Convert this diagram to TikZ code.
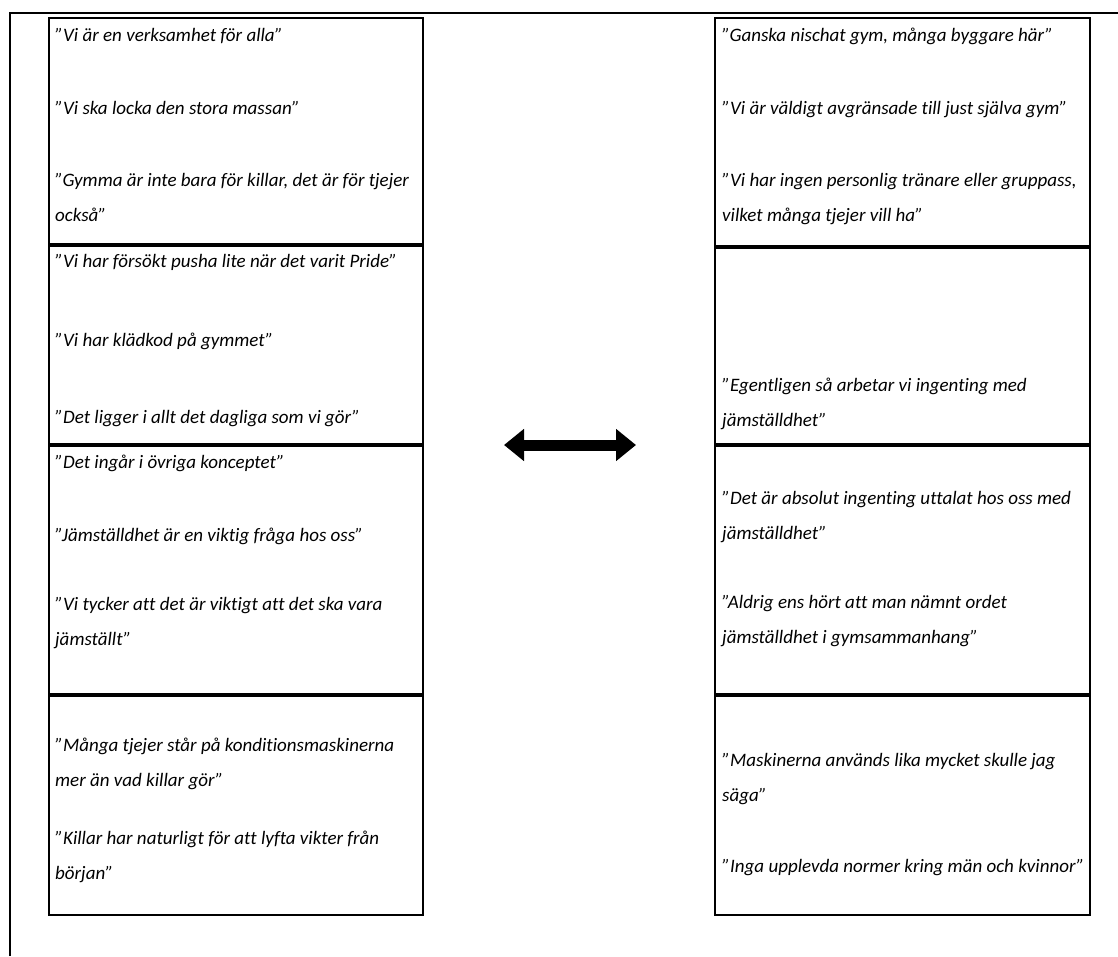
\documentclass[tikz,border=0pt]{standalone}
\usepackage{fontspec}
\setmainfont{Carlito}[Ligatures=CommonOff]
\usetikzlibrary{arrows.meta}

\newcommand{\citat}{\fontsize{19}{35}\selectfont\itshape}

\begin{document}
\begin{tikzpicture}[x=1pt, y=-1pt,
  rad/.style={anchor=base west, inner sep=0pt, font=\citat},
  ram/.style={line width=2.5pt},
  ruta/.style={line width=2.4pt},
  delning/.style={line width=3.2pt},
  dubbelpil/.style={line width=11pt, {Triangle[length=20pt,width=31pt]}-{Triangle[length=20pt,width=31pt]}}]

\useasboundingbox (0,0) rectangle (1118,956);

% Yttre ram
\draw[ram] (10,956) -- (10,13) -- (1118,13);

% Vänster kolumn
\draw[ruta] (49,18) rectangle (423,915);
\draw[delning] (49,245) -- (423,245);
\draw[delning] (49,445) -- (423,445);
\draw[delning] (49,695) -- (423,695);

\node[rad] (v1a) at (55,41) {”Vi är en verksamhet för alla”};
\node[rad] (v1b) at (55,114) {”Vi ska locka den stora massan”};
\node[rad] (v1c) at (55,186) {”Gymma är inte bara för killar, det är för tjejer};
\node[rad] (v1d) at (55,221) {också”};

\node[rad] (v2a) at (55,267) {”Vi har försökt pusha lite när det varit Pride”};
\node[rad] (v2b) at (55,346) {”Vi har klädkod på gymmet”};
\node[rad] (v2c) at (55,423) {”Det ligger i allt det dagliga som vi gör”};

\node[rad] (v3a) at (55,468) {”Det ingår i övriga konceptet”};
\node[rad] (v3b) at (55,541) {”Jämställdhet är en viktig fråga hos oss”};
\node[rad] (v3c) at (55,610) {”Vi tycker att det är viktigt att det ska vara};
\node[rad] (v3d) at (55,645) {jämställt”};

\node[rad] (v4a) at (55,751) {”Många tjejer står på konditionsmaskinerna};
\node[rad] (v4b) at (55,786) {mer än vad killar gör”};
\node[rad] (v4c) at (55,844) {”Killar har naturligt för att lyfta vikter från};
\node[rad] (v4d) at (55,879) {början”};

% Pil
\coordinate (pilV) at (504,445);
\coordinate (pilH) at (636,445);
\draw[dubbelpil] (pilV) -- (pilH);

% Höger kolumn
\draw[ruta] (715,18) rectangle (1090,915);
\draw[delning] (715,247) -- (1090,247);
\draw[delning] (715,445) -- (1090,445);
\draw[delning] (715,695) -- (1090,695);

\node[rad] (h1a) at (722,41) {”Ganska nischat gym, många byggare här”};
\node[rad] (h1b) at (722,114) {”Vi är väldigt avgränsade till just själva gym”};
\node[rad] (h1c) at (722,186) {”Vi har ingen personlig tränare eller gruppass,};
\node[rad] (h1d) at (722,221) {vilket många tjejer vill ha”};

\node[rad] (h2a) at (722,391) {”Egentligen så arbetar vi ingenting med};
\node[rad] (h2b) at (722,426) {jämställdhet”};

\node[rad] (h3a) at (722,504) {”Det är absolut ingenting uttalat hos oss med};
\node[rad] (h3b) at (722,539) {jämställdhet”};
\node[rad] (h3c) at (722,608) {”Aldrig ens hört att man nämnt ordet};
\node[rad] (h3d) at (722,643) {jämställdhet i gymsammanhang”};

\node[rad] (h4a) at (722,766) {”Maskinerna används lika mycket skulle jag};
\node[rad] (h4b) at (722,801) {säga”};
\node[rad] (h4c) at (722,872) {”Inga upplevda normer kring män och kvinnor”};

\end{tikzpicture}
\end{document}
